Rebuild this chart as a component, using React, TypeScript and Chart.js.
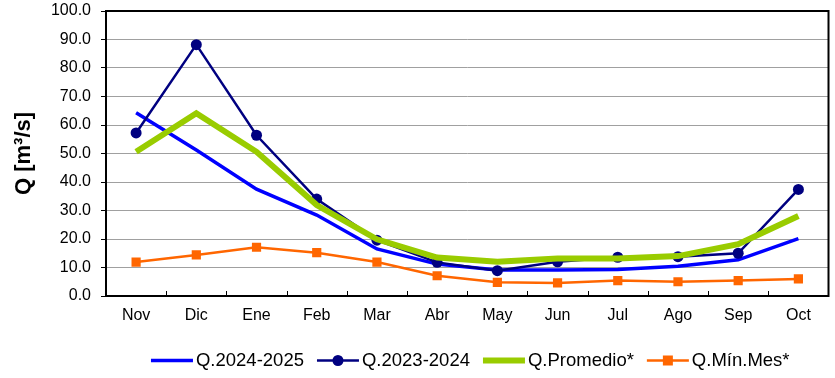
import React, { useEffect, useRef } from "react";
import { Chart, registerables } from "chart.js";

Chart.register(...registerables);

const categories = ["Nov", "Dic", "Ene", "Feb", "Mar", "Abr", "May", "Jun", "Jul", "Ago", "Sep", "Oct"];
const q2425 = [64.3, 51.2, 37.5, 28.4, 16.5, 11.2, 9.1, 9.1, 9.3, 10.4, 12.7, 20.1];
const q2324 = [57.2, 88.2, 56.4, 34.0, 19.6, 11.8, 8.9, 12.0, 13.6, 13.8, 15.0, 37.4];
const qProm = [50.6, 64.1, 50.6, 31.9, 19.9, 13.5, 12.0, 13.2, 13.2, 14.0, 18.2, 28.1];
const qMin = [11.9, 14.4, 17.1, 15.2, 11.9, 7.1, 4.8, 4.6, 5.4, 5.0, 5.4, 6.0];
const seriesNames = ["Q.2024-2025", "Q.2023-2024", "Q.Promedio*", "Q.Mín.Mes*"];
const yTitle = "Q [m³/s]";

const FONT = '"Liberation Sans", Arial, sans-serif';

const framePlugin = {
  id: "frame",
  afterDatasetsDraw(chart: any) {
    const { ctx, chartArea } = chart;
    const x = chart.scales.x;
    ctx.save();
    ctx.strokeStyle = "#000";
    ctx.lineWidth = 2;
    ctx.strokeRect(chartArea.left, chartArea.top, chartArea.right - chartArea.left, chartArea.bottom - chartArea.top);
    ctx.lineWidth = 1;
    for (let i = 0; i < categories.length - 1; i++) {
      const bx = Math.round((x.getPixelForValue(i) + x.getPixelForValue(i + 1)) / 2) + 0.5;
      ctx.beginPath();
      ctx.moveTo(bx, chartArea.bottom);
      ctx.lineTo(bx, chartArea.bottom - 5);
      ctx.stroke();
    }
    ctx.restore();
  },
};

const legendPlugin = {
  id: "customLegend",
  afterDraw(chart: any) {
    const { ctx, chartArea } = chart;
    const ds = chart.data.datasets;
    ctx.save();
    ctx.font = `18.5px ${FONT}`;
    const sample = 42, gap = 3, spacing = 13;
    const widths = ds.map((d: any) => sample + gap + ctx.measureText(d.label).width);
    const total = widths.reduce((a: number, b: number) => a + b, 0) + spacing * (ds.length - 1);
    let x = (chartArea.left + chartArea.right) / 2 + 3 - total / 2;
    const y = 360.5;
    ds.forEach((d: any, i: number) => {
      ctx.strokeStyle = d.borderColor;
      ctx.lineWidth = d.borderWidth;
      ctx.beginPath();
      ctx.moveTo(x, y);
      ctx.lineTo(x + sample, y);
      ctx.stroke();
      const cx = x + sample / 2;
      ctx.fillStyle = d.borderColor;
      if (d.pointStyle === "circle" && d.pointRadius > 0) {
        ctx.beginPath();
        ctx.arc(cx, y, 5.5, 0, Math.PI * 2);
        ctx.fill();
      } else if (d.pointStyle === "rect" && d.pointRadius > 0) {
        ctx.fillRect(cx - 5, y - 5, 10, 10);
      }
      ctx.fillStyle = "#000";
      ctx.textBaseline = "middle";
      ctx.textAlign = "left";
      ctx.fillText(d.label, x + sample + gap, y);
      x += widths[i] + spacing;
    });
    ctx.restore();
  },
};

export default function App() {
  const ref = useRef<HTMLCanvasElement | null>(null);
  useEffect(() => {
    document.body.style.margin = "0";
    const canvas = ref.current;
    if (!canvas) return;
    const chart = new Chart(canvas, {
      type: "line",
      data: {
        labels: categories,
        datasets: [
          {
            label: seriesNames[0],
            data: q2425,
            borderColor: "#0000FF",
            backgroundColor: "#0000FF",
            borderWidth: 3.5,
            pointRadius: 0,
            pointStyle: "line",
            order: 4,
          },
          {
            label: seriesNames[1],
            data: q2324,
            borderColor: "#000080",
            backgroundColor: "#000080",
            borderWidth: 2.5,
            pointRadius: 5.5,
            pointStyle: "circle",
            pointBorderWidth: 0,
            order: 3,
          },
          {
            label: seriesNames[2],
            data: qProm,
            borderColor: "#99CC00",
            backgroundColor: "#99CC00",
            borderWidth: 6,
            pointRadius: 0,
            pointStyle: "line",
            order: 2,
          },
          {
            label: seriesNames[3],
            data: qMin,
            borderColor: "#FF6600",
            backgroundColor: "#FF6600",
            borderWidth: 2.5,
            pointRadius: 6.5,
            pointStyle: "rect",
            pointBorderWidth: 0,
            order: 1,
          },
        ] as any,
      },
      options: {
        responsive: false,
        animation: false,
        events: [],
        layout: { padding: { left: 0, right: 6, top: 11, bottom: 0 } },
        plugins: {
          legend: { display: false },
          tooltip: { enabled: false },
        },
        scales: {
          x: {
            type: "category",
            offset: true,
            grid: { display: false, drawTicks: false },
            border: { display: false },
            ticks: {
              color: "#000",
              font: { family: FONT, size: 16 },
              padding: 10,
              maxRotation: 0,
              autoSkip: false,
            },
            afterFit(scale: any) {
              scale.height = 82;
              scale.paddingLeft = 0;
              scale.paddingRight = 0;
            },
          },
          y: {
            min: 0,
            max: 100,
            grid: {
              color: "#a0a0a0",
              lineWidth: 1,
              drawTicks: true,
              tickLength: 5,
              tickColor: "#000",
            },
            border: { display: false },
            ticks: {
              stepSize: 10,
              color: "#000",
              padding: 10,
              font: { family: FONT, size: 16 },
              callback: (v: any) => Number(v).toFixed(1),
            },
            title: {
              display: true,
              text: yTitle,
              color: "#000",
              font: { family: FONT, size: 22, weight: "bold" },
              padding: { top: 11, bottom: 0 },
            },
            afterFit(scale: any) {
              scale.width = 106;
              scale.paddingTop = 0;
              scale.paddingBottom = 0;
            },
          },
        },
      },
      plugins: [framePlugin, legendPlugin],
    });
    return () => chart.destroy();
  }, []);
  return (
    <div style={{ width: 835, height: 378 }}>
      <canvas ref={ref} width={835} height={378} style={{ display: "block" }} />
    </div>
  );
}
